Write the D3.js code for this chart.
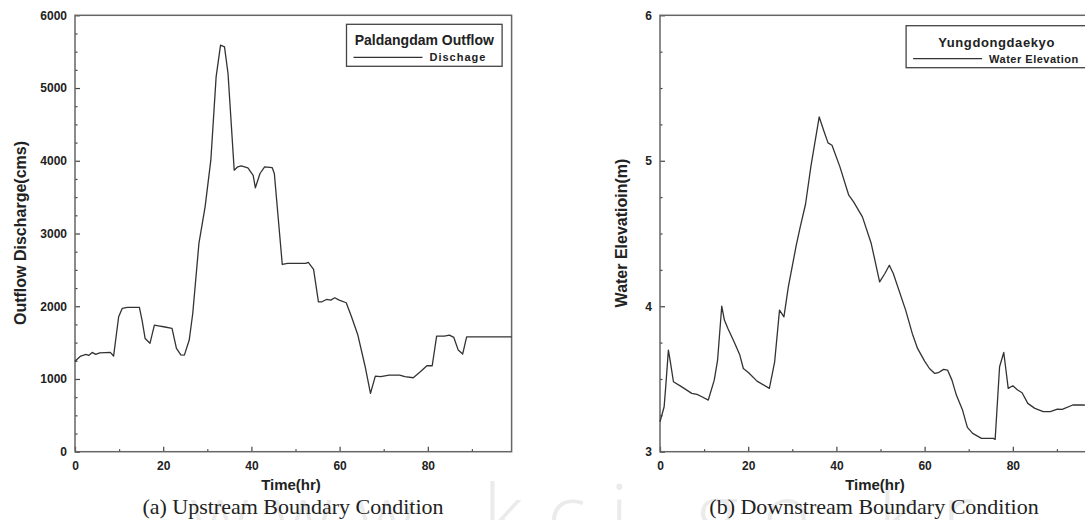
<!DOCTYPE html>
<html>
<head>
<meta charset="utf-8">
<script src="https://cdn.jsdelivr.net/npm/d3@7/dist/d3.min.js"></script>
<style>
  html, body { margin: 0; padding: 0; background: #fff; }
  svg { display: block; }
</style>
</head>
<body>
<svg id="chart" width="1085" height="520"></svg>
<script>
// ---------- DATA ----------
// (a) Upstream: Paldangdam outflow discharge (cms) vs time (hr)
const upTime = [0, 0.3, 1.3, 2.5, 3.1, 3.9, 4.7, 5.6, 8, 8.75, 9.9, 10.7, 11.9, 14.6, 15.2, 15.9, 17, 18, 18.9, 20.1, 22, 23, 24, 24.8, 25.9, 26.7, 28.1, 29.5, 30.8, 32, 33, 33.9, 34.7, 36.1, 36.9, 37.7, 39.2, 40.4, 40.9, 41.95, 43, 44.7, 45.2, 47, 48.2, 52.3, 52.9, 54.1, 55.2, 56, 57, 58, 58.9, 59.9, 61.5, 62.7, 64.1, 65.8, 67, 68.1, 69.3, 71.25, 73.6, 74.8, 76.7, 78.3, 79.8, 81, 82, 83.75, 84.9, 85.9, 86.9, 87.9, 88.8, 92.3, 99];
const upDischarge = [1240, 1260, 1315, 1338, 1324, 1365, 1338, 1360, 1365, 1315, 1855, 1970, 1983, 1983, 1810, 1557, 1490, 1740, 1730, 1718, 1695, 1420, 1330, 1328, 1535, 1900, 2863, 3367, 4008, 5153, 5590, 5565, 5200, 3870, 3917, 3930, 3903, 3800, 3628, 3825, 3917, 3907, 3825, 2574, 2588, 2588, 2602, 2506, 2061, 2061, 2093, 2084, 2116, 2084, 2048, 1855, 1612, 1168, 802, 1040, 1031, 1054, 1054, 1031, 1017, 1099, 1182, 1182, 1590, 1590, 1603, 1571, 1397, 1342, 1580, 1580, 1578];

// (b) Downstream: Yungdongdaekyo water elevation (m) vs time (hr)
const downTime = [0, 0.94, 1.3, 1.9, 2.35, 3.05, 4.85, 7.2, 8.4, 9.5, 10.95, 12.3, 13.06, 14, 14.6, 15.4, 16.97, 18.1, 18.9, 20.1, 22, 24.8, 26, 27.1, 28.1, 29.1, 30.9, 31.8, 33, 34.2, 36.1, 37.1, 38.1, 39, 40.8, 42.8, 43.9, 45.9, 47.9, 49.8, 51, 52, 52.9, 55.7, 57.2, 58.4, 60, 61.1, 62.3, 63.1, 64.3, 65.2, 66.2, 67.2, 68.6, 69.7, 70.9, 72.9, 75.6, 76, 77, 77.95, 78.96, 80, 81.1, 82.1, 83.4, 85, 86.9, 88.5, 90.1, 91.2, 93.6, 95.9, 99];
const downElevation = [3.206, 3.309, 3.447, 3.698, 3.618, 3.481, 3.447, 3.401, 3.394, 3.378, 3.355, 3.492, 3.63, 4.0, 3.905, 3.847, 3.744, 3.664, 3.572, 3.543, 3.485, 3.435, 3.618, 3.973, 3.927, 4.133, 4.42, 4.546, 4.701, 4.958, 5.301, 5.21, 5.123, 5.107, 4.958, 4.763, 4.717, 4.614, 4.431, 4.168, 4.225, 4.282, 4.225, 3.973, 3.813, 3.71, 3.623, 3.572, 3.538, 3.543, 3.566, 3.561, 3.492, 3.389, 3.286, 3.167, 3.126, 3.092, 3.092, 3.085, 3.584, 3.682, 3.435, 3.453, 3.424, 3.405, 3.332, 3.298, 3.275, 3.275, 3.293, 3.291, 3.321, 3.321, 3.32];

// axis ticks & labels
const xMajorTicks = [0, 20, 40, 60, 80];
const xMinorTicks = [10, 30, 50, 70, 90];
const upYMajor = [0, 1000, 2000, 3000, 4000, 5000, 6000];
const upYMinor = [250, 500, 750, 1250, 1500, 1750, 2250, 2500, 2750, 3250, 3500, 3750, 4250, 4500, 4750, 5250, 5500, 5750];
const downYMajor = [3, 4, 5, 6];
const downYMinor = [3.25, 3.5, 3.75, 4.25, 4.5, 4.75, 5.25, 5.5, 5.75];

// texts
const panelA = { title: "Paldangdam Outflow", entry: "Dischage", yLabel: "Outflow Discharge(cms)", xLabel: "Time(hr)", caption: "(a) Upstream Boundary Condition" };
const panelB = { title: "Yungdongdaekyo", entry: "Water Elevation", yLabel: "Water Elevatioin(m)", xLabel: "Time(hr)", caption: "(b) Downstream Boundary Condition" };
const watermark = "www.kci.go.kr";

// ---------- DRAW ----------
const svg = d3.select("#chart");
const SANS = "'Liberation Sans', Arial, sans-serif";
const SERIF = "'Liberation Serif', 'Times New Roman', serif";

// watermark (behind everything)
svg.append("text")
  .attr("x", 190).attr("y", 543)
  .attr("font-family", "'Open Sans', sans-serif")
  .attr("font-weight", 300)
  .attr("font-size", 82)
  .attr("letter-spacing", 24)
  .attr("fill", "#ebebeb")
  .text(watermark);

function panel(cfg) {
  const g = svg.append("g");
  const x = d3.scaleLinear().domain([0, 99]).range([cfg.left, cfg.left + 436.6]);
  const y = d3.scaleLinear().domain(cfg.yDomain).range([451.7, 15.3]);

  // minor ticks
  g.append("g").attr("transform", `translate(0,${y.range()[0]})`)
    .call(d3.axisBottom(x).tickValues(xMinorTicks).tickSizeInner(-2.5).tickSizeOuter(0).tickFormat(""))
    .call(a => a.select(".domain").remove());
  g.append("g").attr("transform", `translate(${cfg.left},0)`)
    .call(d3.axisLeft(y).tickValues(cfg.yMinor).tickSizeInner(-2.5).tickSizeOuter(0).tickFormat(""))
    .call(a => a.select(".domain").remove());

  // major ticks + labels
  const xa = g.append("g").attr("transform", `translate(0,${y.range()[0]})`)
    .call(d3.axisBottom(x).tickValues(xMajorTicks).tickSizeInner(-5).tickSizeOuter(0).tickPadding(10).tickFormat(d3.format("d")));
  xa.select(".domain").remove();
  const ya = g.append("g").attr("transform", `translate(${cfg.left},0)`)
    .call(d3.axisLeft(y).tickValues(cfg.yMajor).tickSizeInner(-5).tickSizeOuter(0).tickPadding(8).tickFormat(d3.format("d")));
  ya.select(".domain").remove();

  g.selectAll(".tick line").attr("stroke", "#444").attr("stroke-width", 1.2);
  g.selectAll(".tick text")
    .attr("font-family", SANS).attr("font-weight", "bold").attr("font-size", 12).attr("fill", "#222");

  // frame
  g.append("rect")
    .attr("x", x.range()[0]).attr("y", y.range()[1])
    .attr("width", x.range()[1] - x.range()[0]).attr("height", y.range()[0] - y.range()[1])
    .attr("fill", "none").attr("stroke", "#666").attr("stroke-width", 1.5);

  // data line
  const pts = cfg.t.map((t, i) => [t, cfg.v[i]]);
  g.append("path")
    .datum(pts)
    .attr("fill", "none").attr("stroke", "#333").attr("stroke-width", 1.3)
    .attr("stroke-linejoin", "round")
    .attr("d", d3.line().x(d => x(d[0])).y(d => y(d[1])));

  // legend
  const bx = x.range()[1] - 9.5 - cfg.legW, by = cfg.legTop;
  g.append("rect").attr("x", bx).attr("y", by).attr("width", cfg.legW).attr("height", 42)
    .attr("fill", "#fff").attr("stroke", "#444").attr("stroke-width", 1.3);
  g.append("text").attr("x", bx + cfg.legW / 2).attr("y", by + 21)
    .attr("text-anchor", "middle").attr("font-family", SANS).attr("font-weight", "bold")
    .attr("font-size", cfg.titleSize).attr("letter-spacing", cfg.titleLS).attr("fill", "#222")
    .text(cfg.texts.title);
  g.append("line").attr("x1", bx + 7).attr("x2", bx + 76).attr("y1", by + 33).attr("y2", by + 33)
    .attr("stroke", "#333").attr("stroke-width", 1.3);
  g.append("text").attr("x", bx + 83).attr("y", by + 37)
    .attr("font-family", SANS).attr("font-weight", "bold").attr("font-size", 11)
    .attr("letter-spacing", cfg.entryLS).attr("fill", "#222")
    .text(cfg.texts.entry);

  // axis titles
  g.append("text")
    .attr("transform", `translate(${cfg.left - cfg.yTitleOff},233) rotate(-90)`)
    .attr("text-anchor", "middle").attr("font-family", SANS).attr("font-weight", "bold")
    .attr("font-size", 16).attr("fill", "#222")
    .text(cfg.texts.yLabel);
  g.append("text")
    .attr("x", cfg.left + cfg.xTitleOff).attr("y", 490)
    .attr("text-anchor", "middle").attr("font-family", SANS).attr("font-weight", "bold")
    .attr("font-size", 15).attr("fill", "#222")
    .text(cfg.texts.xLabel);

  // caption
  g.append("text")
    .attr("x", cfg.left + cfg.capOff).attr("y", 514)
    .attr("text-anchor", "middle").attr("font-family", SERIF)
    .attr("font-size", 22).attr("fill", "#222")
    .text(cfg.texts.caption);
}

panel({ left: 75, yDomain: [0, 6000], yMajor: upYMajor, yMinor: upYMinor, t: upTime, v: upDischarge,
        texts: panelA, legW: 155.6, legTop: 24.3, titleSize: 14, titleLS: 0, entryLS: 1,
        yTitleOff: 49, xTitleOff: 216, capOff: 218 });
panel({ left: 660, yDomain: [3, 6], yMajor: downYMajor, yMinor: downYMinor, t: downTime, v: downElevation,
        texts: panelB, legW: 181, legTop: 25.7, titleSize: 13, titleLS: 0.6, entryLS: 0.5,
        yTitleOff: 33, xTitleOff: 215, capOff: 214 });
</script>
</body>
</html>
